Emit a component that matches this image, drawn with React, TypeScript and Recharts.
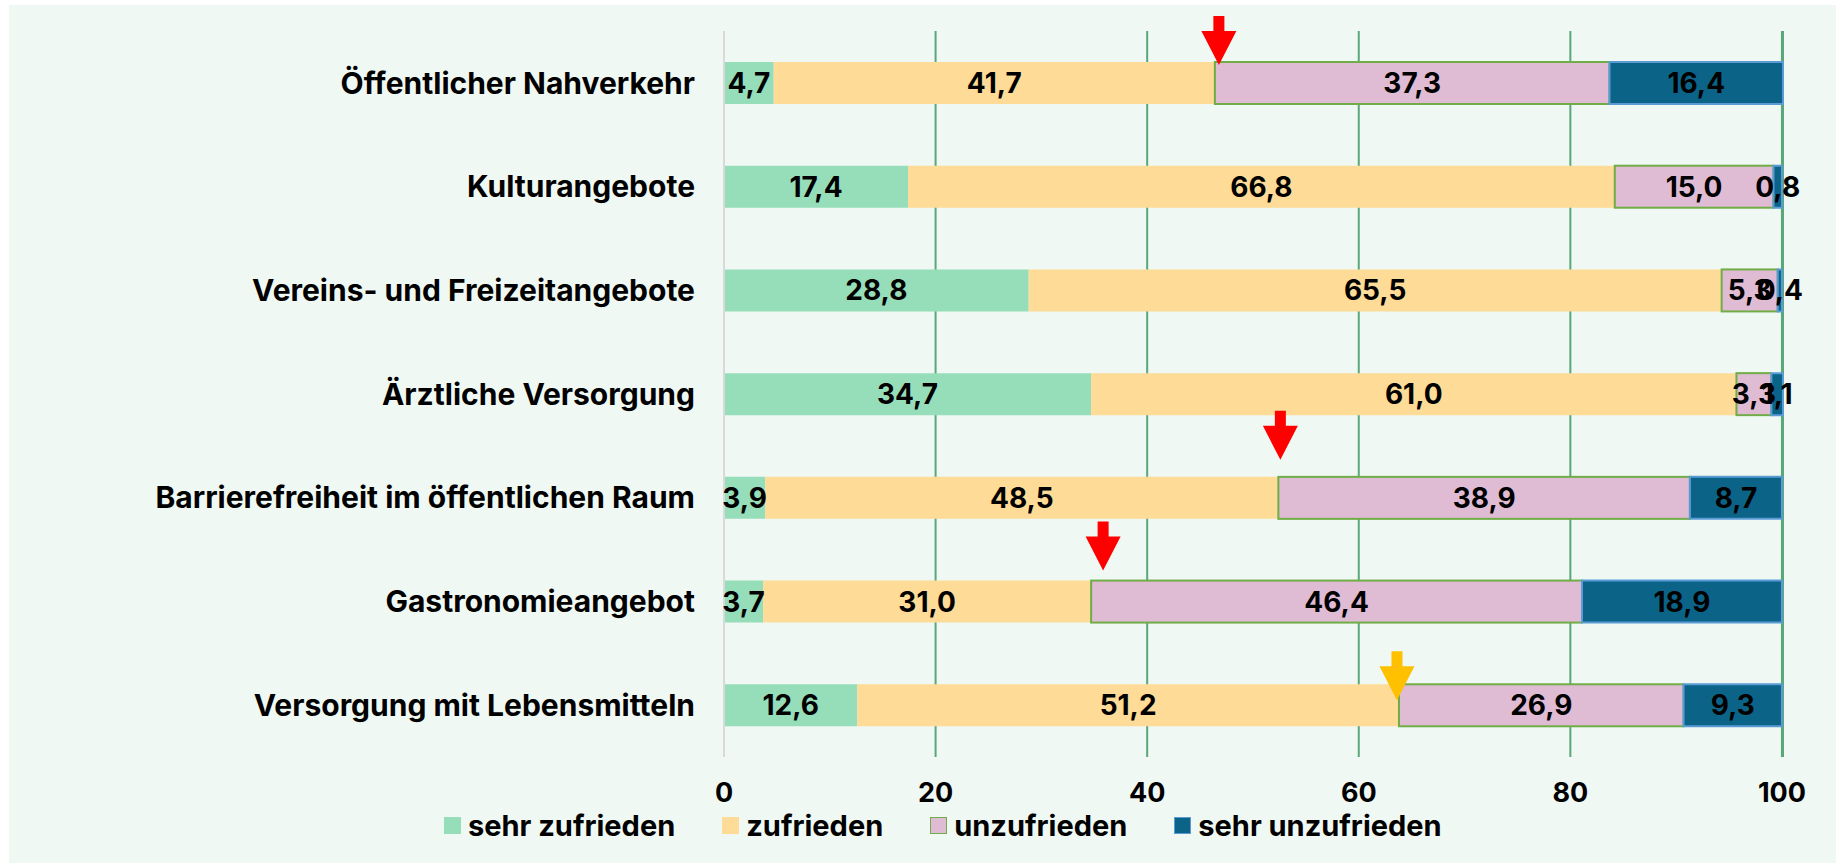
import React from 'react'
import { BarChart, Bar, XAxis, YAxis, CartesianGrid, LabelList } from 'recharts'

const categories = [
  'Öffentlicher Nahverkehr',
  'Kulturangebote',
  'Vereins- und Freizeitangebote',
  'Ärztliche Versorgung',
  'Barrierefreiheit im öffentlichen Raum',
  'Gastronomieangebot',
  'Versorgung mit Lebensmitteln',
]

const sehrZufrieden = [4.7, 17.4, 28.8, 34.7, 3.9, 3.7, 12.6]
const zufrieden = [41.7, 66.8, 65.5, 61.0, 48.5, 31.0, 51.2]
const unzufrieden = [37.3, 15.0, 5.3, 3.3, 38.9, 46.4, 26.9]
const sehrUnzufrieden = [16.4, 0.8, 0.4, 1.1, 8.7, 18.9, 9.3]

const xTicks = [0, 20, 40, 60, 80, 100]

// Pfeile markieren die Grenze zufrieden / unzufrieden
const arrowRows: Record<string, { color: string; dx: number; dy: number }> = {
  'Öffentlicher Nahverkehr': { color: '#FF0000', dx: 4, dy: 3 },
  'Barrierefreiheit im öffentlichen Raum': { color: '#FF0000', dx: 2, dy: -17 },
  'Gastronomieangebot': { color: '#FF0000', dx: 12, dy: -10 },
  'Versorgung mit Lebensmitteln': { color: '#FFC000', dx: -2, dy: 16 },
}

const data = categories.map((category, i) => ({
  category,
  sehrZufrieden: sehrZufrieden[i],
  zufrieden: zufrieden[i],
  unzufrieden: unzufrieden[i],
  sehrUnzufrieden: sehrUnzufrieden[i],
}))

const FONT = 'Inter, "Noto Sans", sans-serif'
const fmt = (v: any) => Number(v).toFixed(1).replace('.', ',')

const legendItems = [
  { label: 'sehr zufrieden', fill: '#96DEBA', stroke: 'none' },
  { label: 'zufrieden', fill: '#FEDB96', stroke: 'none' },
  { label: 'unzufrieden', fill: '#DFBBD4', stroke: '#70AD47' },
  { label: 'sehr unzufrieden', fill: '#0B6488', stroke: '#5B9BD5' },
]

function UnzufriedenShape(props: any) {
  const { x, y, width, height, payload } = props
  const arrow = arrowRows[payload?.category]
  let arrowEl = null
  if (arrow) {
    const tx = x + arrow.dx
    const ty = y + arrow.dy
    const pts = [
      [tx - 5.5, ty - 49],
      [tx + 5.5, ty - 49],
      [tx + 5.5, ty - 34],
      [tx + 17.5, ty - 34],
      [tx, ty],
      [tx - 17.5, ty - 34],
      [tx - 5.5, ty - 34],
    ]
      .map((p) => p.join(','))
      .join(' ')
    arrowEl = <polygon points={pts} fill={arrow.color} />
  }
  return (
    <g>
      <rect x={x} y={y} width={width} height={height} fill="#DFBBD4" stroke="#70AD47" strokeWidth={2} />
      {arrowEl}
    </g>
  )
}

function ChartLegend() {
  return (
    <div
      style={{
        position: 'absolute',
        left: 444,
        top: 808,
        display: 'flex',
        alignItems: 'center',
        fontFamily: FONT,
        fontWeight: 700,
        fontSize: 29,
        color: '#000',
        whiteSpace: 'nowrap',
      }}
    >
      {legendItems.map((item) => (
        <div key={item.label} style={{ display: 'flex', alignItems: 'center', marginRight: 47 }}>
          <div
            style={{
              width: item.stroke === 'none' ? 17 : 15,
              height: item.stroke === 'none' ? 17 : 15,
              background: item.fill,
              border: item.stroke === 'none' ? 'none' : `1px solid ${item.stroke}`,
              marginRight: 7,
            }}
          />
          <span>{item.label}</span>
        </div>
      ))}
    </div>
  )
}

export default function App() {
  return (
    <div style={{ position: 'absolute', left: 0, top: 0, width: 1836, height: 863, background: '#fff' }}>
      <div style={{ position: 'absolute', left: 9, top: 5, right: 0, bottom: 0, background: '#EFF8F3' }} />
      <div style={{ position: 'absolute', left: 0, top: 0 }}>
        <BarChart
          width={1836}
          height={863}
          data={data}
          layout="vertical"
          margin={{ top: 31, right: 53, bottom: 76, left: 0 }}
        >
          <CartesianGrid horizontal={false} stroke="#5AA77A" strokeWidth={2} />
          <XAxis
            type="number"
            domain={[0, 100]}
            ticks={xTicks}
            axisLine={false}
            tickLine={false}
            tickSize={0}
            tickMargin={26}
            height={30}
            tick={{ fontSize: 27, fontWeight: 700, fill: '#000', fontFamily: FONT }}
          />
          <YAxis
            type="category"
            dataKey="category"
            width={724}
            axisLine={{ stroke: '#D9D9D9', strokeWidth: 2 }}
            tickLine={false}
            tickSize={0}
            tickMargin={29}
            tick={{ fontSize: 30, fontWeight: 700, fill: '#000', fontFamily: FONT }}
          />
          <Bar dataKey="sehrZufrieden" name="sehr zufrieden" stackId="a" fill="#96DEBA" barSize={42} isAnimationActive={false}>
            <LabelList dataKey="sehrZufrieden" position="center" formatter={fmt} fill="#000" fontSize={28} fontWeight={700} fontFamily={FONT} />
          </Bar>
          <Bar dataKey="zufrieden" name="zufrieden" stackId="a" fill="#FEDB96" barSize={42} isAnimationActive={false}>
            <LabelList dataKey="zufrieden" position="center" formatter={fmt} fill="#000" fontSize={28} fontWeight={700} fontFamily={FONT} />
          </Bar>
          <Bar
            dataKey="unzufrieden"
            name="unzufrieden"
            stackId="a"
            fill="#DFBBD4"
            barSize={42}
            shape={<UnzufriedenShape />}
            isAnimationActive={false}
          >
            <LabelList dataKey="unzufrieden" position="center" formatter={fmt} fill="#000" fontSize={28} fontWeight={700} fontFamily={FONT} />
          </Bar>
          <Bar
            dataKey="sehrUnzufrieden"
            name="sehr unzufrieden"
            stackId="a"
            fill="#0B6488"
            stroke="#5B9BD5"
            strokeWidth={2}
            barSize={42}
            isAnimationActive={false}
          >
            <LabelList dataKey="sehrUnzufrieden" position="center" formatter={fmt} fill="#000" fontSize={28} fontWeight={700} fontFamily={FONT} />
          </Bar>
        </BarChart>
      </div>
      <ChartLegend />
    </div>
  )
}
